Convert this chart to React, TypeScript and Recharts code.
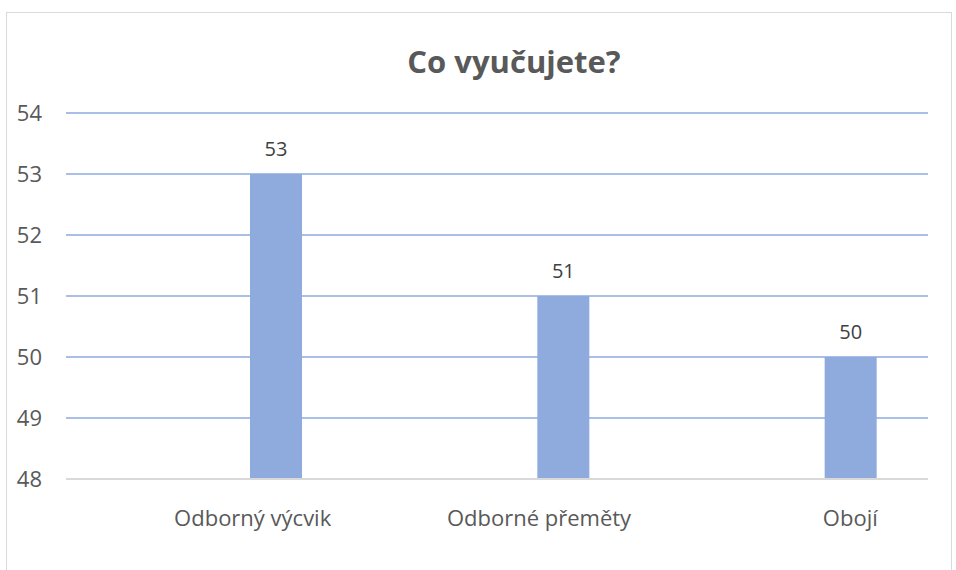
import React from "react";
import { BarChart, Bar, XAxis, YAxis, CartesianGrid, LabelList } from "recharts";

const categories = ["Odborný výcvik", "Odborné přeměty", "Obojí"];
const values = [53, 51, 50];
const yTicks = [48, 49, 50, 51, 52, 53, 54];

// the original chart is a clustered chart with two empty series in front,
// so the visible bar sits to the right of the category centre
const data = categories.map((name, i) => ({ name, empty1: null, empty2: null, value: values[i] }));

const font = "'Open Sans', 'Noto Sans', sans-serif";
const labelShift = [43, 42, 66];

function CategoryTick(props: any) {
  const { x, y, payload, index } = props;
  return (
    <text x={x + (labelShift[index] ?? 0)} y={y} dy={17} textAnchor="middle" fill="#595959" fontSize={22} fontFamily={font}>
      {payload.value}
    </text>
  );
}

export default function App() {
  return (
    <div style={{ position: "absolute", left: 0, top: 0, width: 956, height: 570, background: "#fff", overflow: "hidden" }}>
      <div style={{ position: "absolute", left: 6, top: 12, width: 946, height: 600, border: "1px solid #d9d9d9", boxSizing: "border-box" }} />
      <div style={{ position: "absolute", left: 0, top: 40, width: 1028, textAlign: "center", fontFamily: font, fontWeight: 700, fontSize: 31, color: "#595959" }}>
        Co vyučujete?
      </div>
      <div style={{ position: "absolute", left: 0, top: 0 }}>
        <BarChart width={956} height={570} data={data} margin={{ top: 113, right: 28, bottom: 61, left: 0 }}
          barSize={52} barGap={14}>
          <CartesianGrid vertical={false} stroke="#a9bfe6" strokeWidth={2} />
          <XAxis dataKey="name" tick={<CategoryTick />} tickLine={false} axisLine={{ stroke: "#d9d9d9", strokeWidth: 2 }} tickMargin={24} />
          <YAxis domain={[48, 54]} ticks={yTicks} width={66} tickLine={false} axisLine={false} allowDataOverflow
            tick={{ fontSize: 22, fill: "#595959", fontFamily: font }} tickMargin={18} />
          <Bar dataKey="empty1" fill="transparent" isAnimationActive={false} />
          <Bar dataKey="empty2" fill="transparent" isAnimationActive={false} />
          <Bar dataKey="value" fill="#8faadc" isAnimationActive={false}>
            <LabelList dataKey="value" position="top" offset={18} fill="#404040" fontSize={20} fontFamily={font} />
          </Bar>
        </BarChart>
      </div>
    </div>
  );
}
